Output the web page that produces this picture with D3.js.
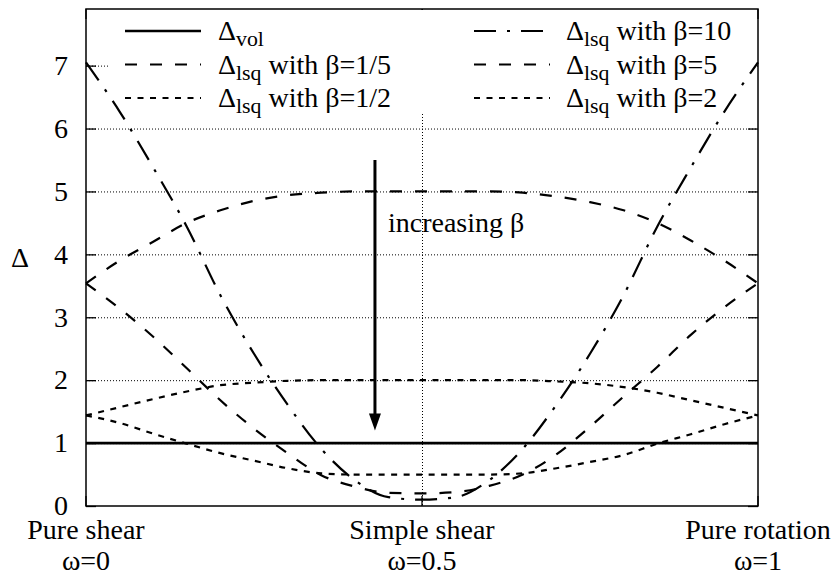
<!DOCTYPE html>
<html><head><meta charset="utf-8">
<script src="https://cdn.jsdelivr.net/npm/d3@7"></script>
<style>body{margin:0;background:#fff} svg text, svg tspan{font-family:'Liberation Serif','Times New Roman',Times,serif !important;}</style>
</head><body><svg id="c" width="835" height="576" style="font-family:'Liberation Serif',Times,serif"></svg>
<script>
// ---- data ----
const omega   = [0,0.05,0.1,0.15,0.2,0.25,0.3,0.35,0.4,0.45,0.5,0.55,0.6,0.65,0.7,0.75,0.8,0.85,0.9,0.95,1];
const deltaVol = [1,1,1,1,1,1,1,1,1,1,1,1,1,1,1,1,1,1,1,1,1];
const beta1_5 = [3.54,3.14,2.69,2.19,1.68,1.23,0.84,0.49,0.31,0.21,0.20,0.22,0.32,0.50,0.82,1.26,1.74,2.21,2.72,3.16,3.54];
const beta1_2 = [1.44,1.32,1.15,0.99,0.84,0.72,0.60,0.52,0.50,0.50,0.50,0.50,0.50,0.52,0.60,0.70,0.81,0.99,1.14,1.30,1.44];
const beta10  = [7.05,6.27,5.38,4.44,3.35,2.42,1.61,0.91,0.41,0.14,0.10,0.14,0.41,0.91,1.61,2.42,3.35,4.44,5.38,6.27,7.05];
const beta5   = [3.54,3.90,4.20,4.50,4.70,4.85,4.94,4.98,5.00,5.00,5.00,5.00,5.00,4.98,4.92,4.83,4.70,4.50,4.22,3.90,3.54];
const beta2   = [1.44,1.57,1.70,1.82,1.92,1.96,1.99,2.00,2.00,2.00,2.00,2.00,2.00,2.00,1.98,1.95,1.89,1.80,1.68,1.56,1.44];
const yTicks = [0,1,2,3,4,5,6,7];
const xTicks = [0,0.5,1];
const xLabels1 = ["Pure shear","Simple shear","Pure rotation"];
const xLabels2 = ["ω=0","ω=0.5","ω=1"];
const legendSub = ["vol","lsq","lsq","lsq","lsq","lsq"];
const legendRest = [""," with β=1/5"," with β=1/2"," with β=10"," with β=5"," with β=2"];
const arrowX = 0.43, arrowFrom = 5.5, arrowTo = 1.2;
const annotation = "increasing β";

// ---- layout ----
const L = 86, R = 758, T = 9, B = 506;
const x = d3.scaleLinear().domain([0,1]).range([L,R]);
const y = d3.scaleLinear().domain([0,7.9]).range([B,T]);
const svg = d3.select("#c");
const FS = 28;
const FF = "'Liberation Serif',Times,serif";

// grid
const grid = svg.append("g").attr("stroke","#000").attr("stroke-width",1).attr("stroke-dasharray","1,2");
yTicks.filter(d=>d>0).forEach(d=>grid.append("line").attr("x1",L).attr("x2",R).attr("y1",y(d)+0.5).attr("y2",y(d)+0.5));
grid.append("line").attr("x1",x(0.5)+0.5).attr("x2",x(0.5)+0.5).attr("y1",T).attr("y2",B);

// ticks
const tk = svg.append("g").attr("stroke","#000").attr("stroke-width",1.3);
yTicks.forEach(d=>{
  tk.append("line").attr("x1",L).attr("x2",L+10).attr("y1",y(d)+0.5).attr("y2",y(d)+0.5);
  tk.append("line").attr("x1",R-10).attr("x2",R).attr("y1",y(d)+0.5).attr("y2",y(d)+0.5);
});
xTicks.forEach(d=>{
  tk.append("line").attr("x1",x(d)).attr("x2",x(d)).attr("y1",B).attr("y2",B-10);
  tk.append("line").attr("x1",x(d)).attr("x2",x(d)).attr("y1",T).attr("y2",T+10);
});

// legend background
svg.append("rect").attr("x",110).attr("y",T+1).attr("width",R-111).attr("height",103).attr("fill","#fff");

// curves
const series = [
  {v:deltaVol, dash:null, w:2.6},
  {v:beta1_5, dash:"12,13", w:2.2},
  {v:beta1_2, dash:"6,6.5", w:2.2},
  {v:beta10, dash:"22,11,3,11", w:2.2},
  {v:beta5, dash:"12,13", w:2.2},
  {v:beta2, dash:"6,6.5", w:2.2}
];
const line = d3.line().x(d=>x(d[0])).y(d=>y(d[1])).curve(d3.curveMonotoneX);
series.forEach(s=>{
  svg.append("path").datum(omega.map((o,i)=>[o,s.v[i]]))
    .attr("d",line).attr("fill","none").attr("stroke","#000")
    .attr("stroke-width",s.w).attr("stroke-dasharray",s.dash);
});

// border
svg.append("rect").attr("x",L).attr("y",T).attr("width",R-L).attr("height",B-T)
  .attr("fill","none").attr("stroke","#000").attr("stroke-width",1.5);

function txt(){ return svg.append("text").style("font-family",FF).attr("font-size",FS).attr("fill","#000"); }
// y tick labels
yTicks.forEach(d=>txt().attr("x",68).attr("y",y(d)).attr("dy","0.33em").attr("text-anchor","end").text(d));
// y axis label
txt().attr("x",20).attr("y",(T+B)/2).attr("dy","0.33em").attr("text-anchor","middle").text("Δ");
// x labels
xTicks.forEach((d,i)=>{
  txt().attr("x",x(d)).attr("y",539).attr("text-anchor","middle").text(xLabels1[i]);
  txt().attr("x",x(d)).attr("y",569.5).attr("text-anchor","middle").text(xLabels2[i]);
});

// arrow
svg.append("line").attr("x1",x(arrowX)).attr("x2",x(arrowX)).attr("y1",y(arrowFrom)).attr("y2",y(arrowTo)-12)
  .attr("stroke","#000").attr("stroke-width",3);
svg.append("path").attr("d",`M${x(arrowX)-6},${y(arrowTo)-17}L${x(arrowX)+6},${y(arrowTo)-17}L${x(arrowX)},${y(arrowTo)}Z`).attr("fill","#000");
txt().attr("x",x(arrowX)+13).attr("y",y(4.35)).text(annotation);

// legend
const rowsY = [31,64.5,98];
series.forEach((s,i)=>{
  const col = i<3?0:1, row = i%3;
  const x0 = col===0?125:474, x1 = x0+76, tx = col===0?218:566;
  const yy = rowsY[row];
  svg.append("line").attr("x1",x0).attr("x2",x1).attr("y1",yy).attr("y2",yy)
    .attr("stroke","#000").attr("stroke-width",s.w).attr("stroke-dasharray",s.dash);
  const t = txt().attr("x",tx).attr("y",yy+9);
  t.append("tspan").text("Δ");
  t.append("tspan").attr("dy",6).attr("font-size",FS*0.78).text(legendSub[i]);
  if (legendRest[i]) t.append("tspan").attr("dy",-6).text(legendRest[i]);
});
</script></body></html>
